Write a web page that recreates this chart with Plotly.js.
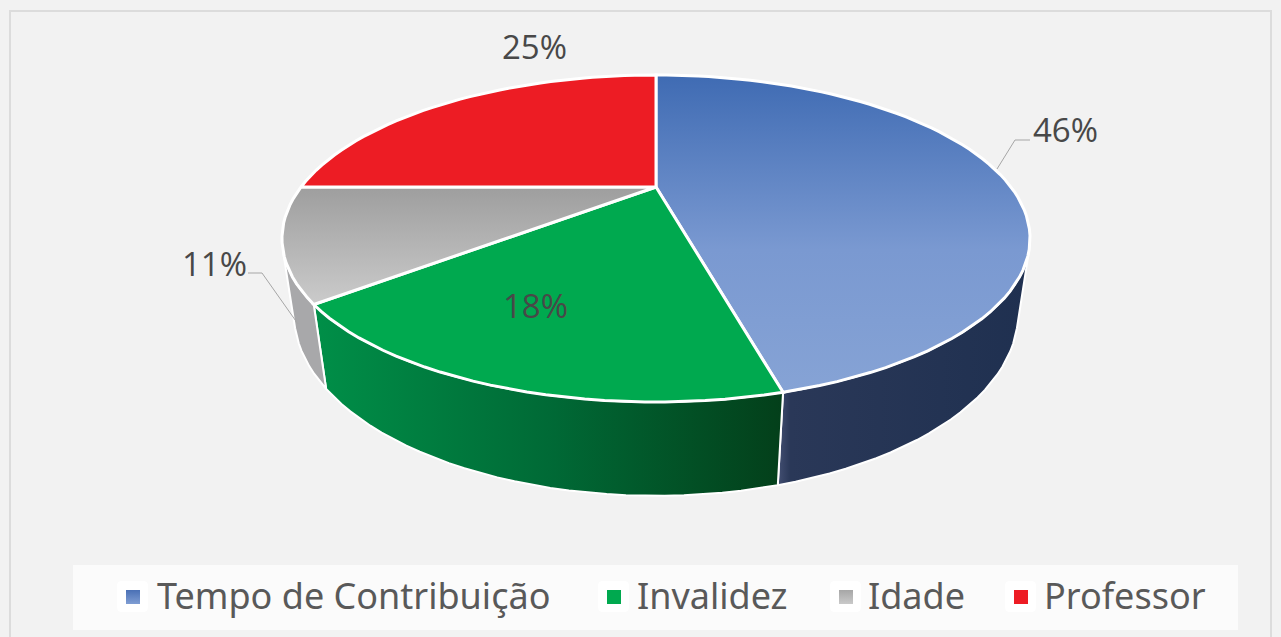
<!DOCTYPE html>
<html><head><meta charset="utf-8">
<script src="https://cdn.plot.ly/plotly-3.0.1.min.js"></script>
<style>html,body{margin:0;padding:0;background:#f2f2f2;overflow:hidden}#chart{width:1281px;height:637px}</style>
</head><body><div id="chart"></div>
<script>
// Data
const categories = ['Tempo de Contribuição', 'Invalidez', 'Idade', 'Professor'];
const values = [46, 18, 11, 25];

// Styles
const wallGradients = [
  {type:'horizontal', colorscale:[[0,'#434f72'],[0.05,'#2a3858'],[1,'#1f3050']]},
  {type:'horizontal', colorscale:[[0,'#008f48'],[0.5,'#006a36'],[1,'#033f1a']]},
  {type:'horizontal', colorscale:[[0,'#a8a8aa'],[1,'#a8a8aa']]},
  null
];
const topGradients = [
  {type:'vertical', colorscale:[[0,'#86a3d5'],[0.45,'#7a99d1'],[1,'#3f6bb3']]},
  {type:'vertical', colorscale:[[0,'#00a94f'],[1,'#00a94f']]},
  {type:'vertical', colorscale:[[0,'#cbcbcb'],[1,'#9e9e9e']]},
  {type:'vertical', colorscale:[[0,'#ed1c24'],[1,'#ed1c24']]}
];
const markerColors = ['#4a70b5','#00a94f','#a6a6a6','#ed1c24'];
const markerEnds = ['#7f9dd3','#00a94f','#c9c9c9','#ed1c24'];
const legendMarkerX = [133, 614, 846, 1021];
const legendTextX = [155, 635, 866, 1042];
const labelPos = [[1065,129],[535,305],[214,263],[534,46]];
const leaders = [
  {x:[1030,1015,997], y:[140,140,169]},
  null,
  {x:[248,262,298], y:[273,273,324]},
  null
];

// Perspective projection of the pie disc
const CX=656, CY=187, A=355, B=147.3, K=0.315, M=0.03, D=73.5;
function project(angle, depth){
  const u=Math.sin(angle), v=Math.cos(angle);
  const w=1+K*v+M*depth;
  return [CX+A*u/w, CY+(-B*v+D*depth)/w];
}
// angle at which a wall ruling is tangent to the rim (the outline of the cylinder)
function tangency(from,to){
  const f=a=>{
    const p=project(a,0), q=project(a,1), h=project(a+1e-4,0);
    return (q[0]-p[0])*(h[1]-p[1])-(q[1]-p[1])*(h[0]-p[0]);
  };
  let lo=from, hi=to, fl=f(lo);
  for(let i=0;i<50;i++){
    const m=(lo+hi)/2, fm=f(m);
    if((fm>0)===(fl>0)){lo=m;fl=fm;} else hi=m;
  }
  return (lo+hi)/2;
}
const rightEdge=tangency(0.1,Math.PI-0.1);
const leftEdge=tangency(Math.PI+0.1,2*Math.PI-0.1);
const total = values.reduce((a,b)=>a+b,0);
const N=160;
function arc(a0,a1,depth){
  const pts=[];
  const n=Math.max(2,Math.ceil(N*(a1-a0)/(2*Math.PI)));
  for(let i=0;i<=n;i++) pts.push(project(a0+(a1-a0)*i/n,depth));
  return pts;
}
const traces=[], tops=[];
let cum=0;
values.forEach((val,i)=>{
  const a0=cum/total*2*Math.PI; cum+=val; const a1=cum/total*2*Math.PI;
  if(wallGradients[i]){
    const lo=Math.max(a0,rightEdge), hi=Math.min(a1,leftEdge);
    const t=arc(lo,hi,0), b=arc(lo,hi,1).reverse();
    const p=t.concat(b); p.push(p[0]);
    traces.push({type:'scatter',mode:'lines',name:categories[i]+' lateral',x:p.map(q=>q[0]),y:p.map(q=>q[1]),
      fill:'toself',fillgradient:wallGradients[i],line:{color:'#ffffff',width:2},hoverinfo:'skip',showlegend:false});
  }
  const r=arc(a0,a1,0); const c=[CX,CY];
  const p=[c].concat(r); p.push(c);
  tops.push({type:'scatter',mode:'lines',name:categories[i],x:p.map(q=>q[0]),y:p.map(q=>q[1]),
    fill:'toself',fillgradient:topGradients[i],line:{color:'#ffffff',width:3},
    text:val+'%',hoverinfo:'name+text',showlegend:false});
});
const data=traces.concat(tops);
leaders.forEach((l,i)=>{ if(l) data.push({type:'scatter',mode:'lines',x:l.x,y:l.y,line:{color:'#a6a6a6',width:1},hoverinfo:'skip',showlegend:false}); });
categories.forEach((c,i)=>{
  data.push({type:'scatter',mode:'markers',x:[legendMarkerX[i]],y:[597],
    marker:{symbol:'square',size:14,color:markerColors[i],gradient:{type:'vertical',color:markerEnds[i]},line:{width:0}},
    hoverinfo:'skip',showlegend:false});
});

function rounded(x0,y0,x1,y1,r){
  return `M${x0+r},${y0}L${x1-r},${y0}Q${x1},${y0} ${x1},${y0+r}L${x1},${y1-r}Q${x1},${y1} ${x1-r},${y1}L${x0+r},${y1}Q${x0},${y1} ${x0},${y1-r}L${x0},${y0+r}Q${x0},${y0} ${x0+r},${y0}Z`;
}
const shapes=[
  {type:'rect',layer:'below',xref:'x',yref:'y',x0:10,x1:1271,y0:11,y1:660,line:{color:'#dcdcdc',width:2},fillcolor:'rgba(0,0,0,0)'},
  {type:'rect',layer:'below',xref:'x',yref:'y',x0:73,x1:1238,y0:565,y1:630,line:{width:0},fillcolor:'#fbfbfb'}
];
legendMarkerX.forEach(x=>shapes.push({type:'path',layer:'below',xref:'x',yref:'y',path:rounded(x-16,581,x+15,612,5),line:{width:0},fillcolor:'#ffffff'}));

const annotations=[];
values.forEach((v,i)=>annotations.push({x:labelPos[i][0],y:labelPos[i][1],xref:'x',yref:'y',text:v+'%',showarrow:false,
  xanchor:'center',yanchor:'middle',font:{family:'"Open Sans", "Noto Sans", sans-serif',size:33,color:'#484848'}}));
categories.forEach((c,i)=>annotations.push({x:legendTextX[i],y:595,xref:'x',yref:'y',text:c,showarrow:false,
  xanchor:'left',yanchor:'middle',font:{family:'"Noto Sans", "Open Sans", sans-serif',size:36,color:'#595959'}}));

Plotly.newPlot('chart',data,{
  width:1281,height:637,margin:{l:0,r:0,t:0,b:0},
  paper_bgcolor:'#f2f2f2',plot_bgcolor:'rgba(0,0,0,0)',showlegend:false,
  xaxis:{visible:false,range:[0,1281],fixedrange:true},
  yaxis:{visible:false,range:[637,0],fixedrange:true},
  shapes,annotations
},{displayModeBar:false,responsive:false});
</script></body></html>
